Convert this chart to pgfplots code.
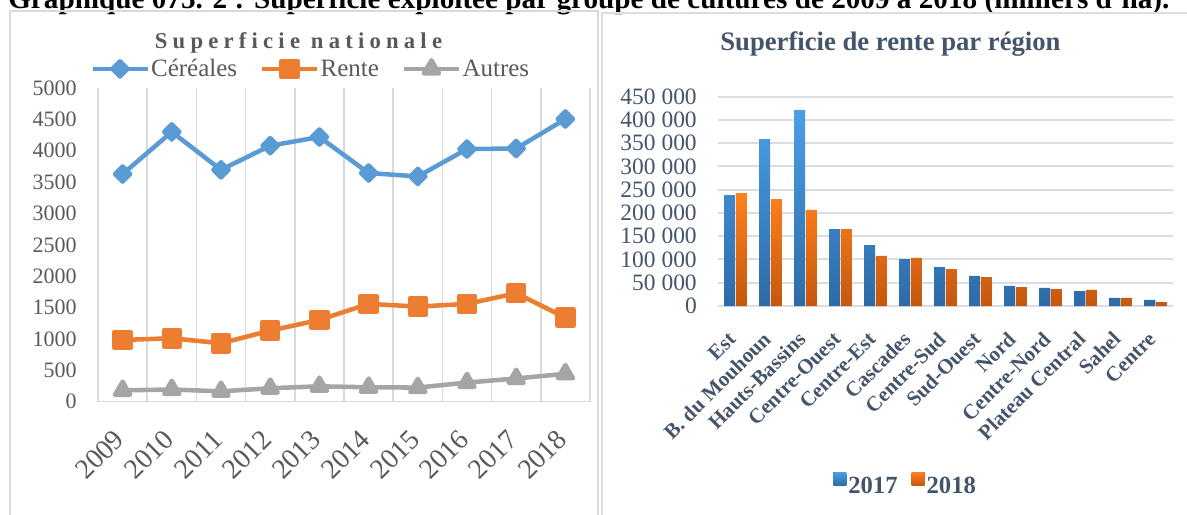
\documentclass[border=0pt]{standalone}
\usepackage{pgfplots}
\pgfplotsset{compat=1.18}
\usepackage{fontspec}
\setmainfont{Liberation Serif}
\definecolor{grtxt}{HTML}{595959}
\definecolor{bltxt}{HTML}{44546A}
\definecolor{cer}{HTML}{5B9BD5}
\definecolor{ren}{HTML}{ED7D31}
\definecolor{aut}{HTML}{A5A5A5}
\definecolor{gridl}{HTML}{D9D9D9}
\definecolor{gridr}{HTML}{D9DEE6}
\definecolor{btop}{HTML}{4A9FE8}
\definecolor{bbot}{HTML}{2E6BA6}
\definecolor{otop}{HTML}{FF801C}
\definecolor{obot}{HTML}{C4570F}
\pgfplotsset{/pgf/number format/assume math mode=true}
\begin{document}
\begin{tikzpicture}[x=0.75pt,y=0.75pt]
\useasboundingbox (0,0) rectangle (1187,514);
\node[anchor=base west, inner sep=0pt, font=\bfseries\fontsize{21.9pt}{24pt}\selectfont] at (8,505) {Graphique 075. 2 : Superficie exploitée par groupe de cultures de 2009 à 2018 (milliers d'ha).};
\draw[gridl, line width=1.1pt] (10,-5) -- (10,503) -- (598,503) -- (598,-5);
\draw[gridr, line width=1.1pt] (602,-5) -- (602,501) -- (1195,501);

\begin{axis}[
  at={(73.5pt,84.225pt)}, anchor=south west,
  width=369pt, height=235.3pt, scale only axis,
  xmin=-0.5, xmax=9.5, ymin=0, ymax=5000,
  xtick={0,...,9},
  xticklabels={2009,2010,2011,2012,2013,2014,2015,2016,2017,2018},
  minor xtick={-0.5,0.5,...,9.5},
  xminorgrids, minor x grid style={gridl, line width=1.1pt},
  major tick length=0pt, minor tick length=0pt,
  ytick={0,500,...,5000},
  axis x line*=bottom, axis y line*=left,
  x axis line style={gridl, line width=1.1pt},
  y axis line style={draw=none},
  yticklabel style={font=\fontsize{16.5pt}{18pt}\selectfont, text=grtxt, inner sep=0pt, xshift=-15.75pt, /pgf/number format/1000 sep={}},
  xticklabel style={font=\fontsize{21pt}{23pt}\selectfont, text=grtxt, inner sep=0pt, xshift=2.6pt, yshift=-29.5pt, rotate=45, anchor=base east},
  title={Superficie nationale},
  title style={at={(axis description cs:0.4075,1.100)}, anchor=base, inner sep=0pt, font=\bfseries\fontsize{17pt}{19pt}\selectfont\addfontfeature{LetterSpace=23}, text=grtxt},
  legend columns=3,
  legend style={draw=none, fill=none, at={(axis description cs:-0.0163,1.0606)}, anchor=west, inner sep=0pt, font=\fontsize{18.75pt}{20pt}\selectfont, text=grtxt, nodes={inner xsep=1pt, inner ysep=0pt}, /tikz/every even column/.append style={column sep=16pt}},
  legend image code/.code={\draw[#1, mark repeat=2, mark phase=2] plot coordinates {(0pt,0pt) (20.6pt,0pt) (41.25pt,0pt)};},
]
\addplot[cer, line width=3.4pt, line join=round, mark=square*, mark size=4pt, mark options={rotate=45, solid}] coordinates {
(0,3628) (1,4300) (2,3695) (3,4080) (4,4218) (5,3644) (6,3590) (7,4027) (8,4035) (9,4505)};
\addlegendentry{Céréales}
\addplot[ren, line width=3.4pt, line join=round, mark=square*, mark size=6pt] coordinates {
(0,984) (1,1011) (2,931) (3,1133) (4,1303) (5,1559) (6,1516) (7,1559) (8,1729) (9,1340)};
\addlegendentry{Rente}
\addplot[aut, line width=3.4pt, line join=round, mark=triangle*, mark size=6.5pt] coordinates {
(0,180) (1,195) (2,165) (3,215) (4,245) (5,230) (6,225) (7,305) (8,370) (9,445)};
\addlegendentry{Autres}
\end{axis}

\begin{axis}[
  at={(538.5pt,156pt)}, anchor=south west,
  width=341.25pt, height=157pt, scale only axis,
  xmin=-0.5, xmax=12.5, ymin=0, ymax=450000,
  ytick={0,50000,...,450000},
  scaled y ticks=false,
  ymajorgrids, major grid style={gridr, line width=1.5pt},
  axis line style={draw=none}, major tick length=0pt,
  xtick={0,...,12},
  xticklabels={Est,B. du Mouhoun,Hauts-Bassins,Centre-Ouest,Centre-Est,Cascades,Centre-Sud,Sud-Ouest,Nord,Centre-Nord,Plateau Central,Sahel,Centre},
  yticklabel style={font=\fontsize{17.6pt}{19pt}\selectfont, text=bltxt, inner sep=0pt, xshift=-15.75pt, /pgf/number format/.cd, fixed, 1000 sep={\ }},
  xticklabel style={font=\bfseries\fontsize{15.75pt}{17pt}\selectfont, text=bltxt, inner sep=0pt, xshift=1.1pt, yshift=-26pt, rotate=45, anchor=base east},
  title={Superficie de rente par région},
  title style={at={(axis description cs:0.379,1.181)}, anchor=base, inner sep=0pt, font=\bfseries\fontsize{20pt}{22pt}\selectfont, text=bltxt},
  legend columns=2,
  legend style={draw=none, fill=none, at={(axis description cs:0.2527,-0.85)}, anchor=west, inner sep=0pt, font=\bfseries\fontsize{18.5pt}{20pt}\selectfont, text=bltxt, nodes={inner xsep=1.5pt, inner ysep=0pt}, /tikz/every even column/.append style={column sep=9pt}},
  legend image code/.code={\fill[#1] (0pt,1pt) rectangle (9.75pt,10.75pt);},
]
\addplot[ybar, bar width=8.4pt, bar shift=-4.4pt, draw=none, top color=btop, bottom color=bbot] coordinates {
(0,238600) (1,359000) (2,421400) (3,165500) (4,131100) (5,101000) (6,83800) (7,64500) (8,43000) (9,38700) (10,32200) (11,17200) (12,12900)};
\addlegendentry{2017}
\addplot[ybar, bar width=8.4pt, bar shift=4.4pt, draw=none, top color=otop, bottom color=obot] coordinates {
(0,242900) (1,230000) (2,206400) (3,165500) (4,107500) (5,103200) (6,79500) (7,62300) (8,40800) (9,36500) (10,34400) (11,17200) (12,8600)};
\addlegendentry{2018}
\end{axis}
\end{tikzpicture}
\end{document}
